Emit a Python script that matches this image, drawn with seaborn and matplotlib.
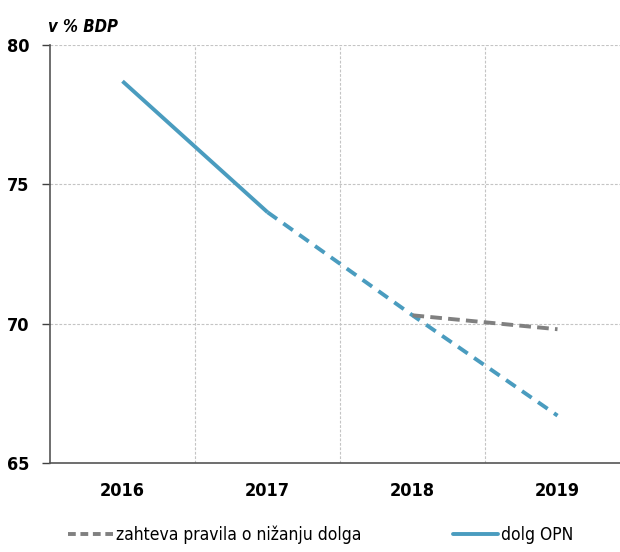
import numpy as np
import pandas as pd
import seaborn as sns
import matplotlib.pyplot as plt
from matplotlib.lines import Line2D

sns.set_theme(style="white")

plt.rcParams["font.family"] = ["DejaVu Sans"]
plt.rcParams["font.stretch"] = "condensed"
plt.rcParams["text.color"] = "black"
plt.rcParams["xtick.color"] = "black"
plt.rcParams["ytick.color"] = "black"

years = ["2016", "2017", "2018", "2019"]
dolg_opn = [78.7, 74.0, 70.3, 66.7]
pravilo = [np.nan, np.nan, 70.3, 69.8]
y_ticks = [65, 70, 75, 80]

label_pravilo = "zahteva pravila o nižanju dolga"
label_dolg = "dolg OPN"

blue = "#4a9cbf"
grey = "#808080"

df = pd.DataFrame({"x": np.arange(len(years)), "dolg": dolg_opn, "pravilo": pravilo})

fig = plt.figure(figsize=(6.2, 5.52), dpi=100)
ax = fig.add_axes([50 / 620, 1 - 463 / 552, 580 / 620, 418 / 552])

# actual debt (solid) and projection (dashed)
sns.lineplot(data=df.iloc[:2], x="x", y="dolg", ax=ax, color=blue, lw=2.8,
             solid_capstyle="butt")
sns.lineplot(data=df.iloc[1:], x="x", y="dolg", ax=ax, color=blue, lw=2.8,
             linestyle=(0, (3, 2)))
sns.lineplot(data=df.dropna(), x="x", y="pravilo", ax=ax, color=grey, lw=2.8,
             linestyle=(0, (3, 1.6)))

ax.set_xlim(-0.5, 3.5)
ax.set_ylim(65, 80)
ax.set_yticks(y_ticks)
ax.set_yticklabels([str(t) for t in y_ticks], fontsize=13, fontweight="bold")
ax.set_xticks(np.arange(len(years)))
ax.set_xticklabels(years, fontsize=13, fontweight="bold")
ax.set_xticks(np.arange(len(years)) - 0.5, minor=True)
ax.tick_params(axis="x", which="major", length=0, pad=14)
ax.tick_params(axis="x", which="minor", length=6, width=1, color="#404040", direction="out")
ax.tick_params(axis="y", length=6, width=1, color="#404040", direction="out", pad=9, left=True)
ax.set_xlabel("")
ax.set_ylabel("")

ax.grid(False)
for y in [70, 75, 80]:
    ax.axhline(y, color="#c4c4c4", lw=0.8, ls=(0, (2.5, 1.5)), zorder=0)
for x in [0.5, 1.5, 2.5]:
    ax.axvline(x, color="#c4c4c4", lw=0.8, ls=(0, (2.5, 1.5)), zorder=0)

for s in ["top", "right"]:
    ax.spines[s].set_visible(False)
for s in ["left", "bottom"]:
    ax.spines[s].set_color("#555555")
    ax.spines[s].set_linewidth(1.2)

fig.text(48 / 620, 1 - 27 / 552, "v % BDP", fontsize=12, fontweight="bold",
         style="italic", va="center", ha="left")

handles = [
    Line2D([], [], color=grey, lw=2.8, ls=(0, (2, 1.2))),
    Line2D([], [], color=blue, lw=2.8),
]
fig.legend(handles, [label_pravilo, label_dolg], loc="center left", ncol=2,
           bbox_to_anchor=(68 / 620, 1 - 535 / 552), frameon=False, fontsize=12.5,
           handlelength=2.6, handletextpad=0.15, columnspacing=5.3,
           borderaxespad=0, borderpad=0)

fig.savefig("out.png", dpi=100)
